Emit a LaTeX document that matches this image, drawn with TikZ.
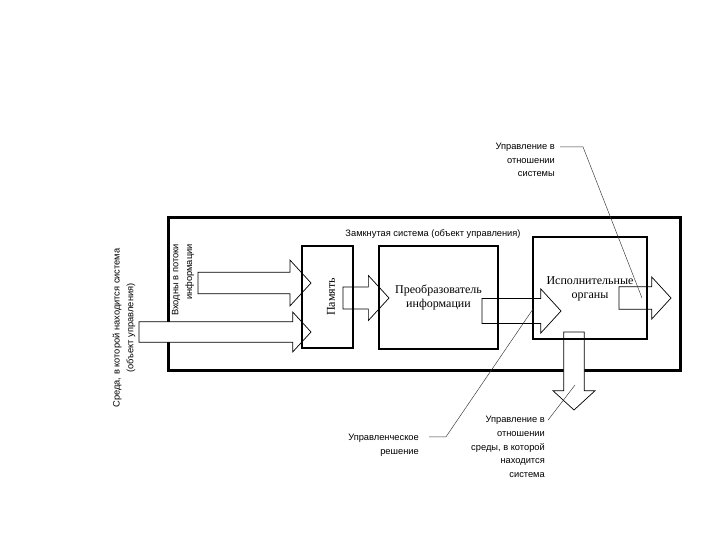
\documentclass[tikz,border=0pt]{standalone}
\usepackage{fontspec}
\setmainfont{Liberation Sans}
\newfontfamily\boxfont{Liberation Serif}
\usepackage{tikz}
\usetikzlibrary{shapes.arrows}

\tikzset{
  unitbox/.style={draw=black, line width=1.1pt, inner sep=0pt, outer sep=0pt, anchor=north west},
  blockarrow/.style={single arrow, draw=black, fill=white, line width=0.7pt, inner sep=0pt, outer sep=0pt,
    single arrow tip angle=95, single arrow head indent=0pt, anchor=tail},
  boxlabel/.style={font=\boxfont\fontsize{12}{14}\selectfont, align=center, inner sep=0pt},
  notelabel/.style={font=\fontsize{9.3}{13.7}\selectfont, align=right, inner sep=0pt},
  leader/.style={line width=0.45pt, black!80},
}

\begin{document}
\begin{tikzpicture}[x=1pt, y=-1pt]
\useasboundingbox (0,0) rectangle (720,540);

% Closed system frame
\node[draw=black, line width=2.8pt, minimum width=512, minimum height=153, inner sep=0pt, anchor=north west] (frame) at (167,216) {};
\node[font=\fontsize{9.3}{11}\selectfont] (title) at (433,234) {Замкнутая система (объект управления)};

% Block arrows
\node[blockarrow, minimum height=113, minimum width=46, inner ysep=6] (inA) at (198,283) {};
\node[blockarrow, minimum height=172, minimum width=40, inner ysep=7] (inB) at (139,332) {};
\node[blockarrow, minimum height=46, minimum width=45, inner ysep=6.5] (memconv) at (343,298) {};
\node[blockarrow, minimum height=79, minimum width=44, inner ysep=9] (convexec) at (482,311) {};
\node[blockarrow, minimum height=52, minimum width=42, inner ysep=8] (toSys) at (619,298) {};
\node[blockarrow, rotate=-90, minimum height=78, minimum width=42, inner ysep=6.5] (toEnv) at (574,332) {};

% Memory, converter, executive organs
\node[unitbox, minimum width=51, minimum height=102] (mem) at (302,246) {};
\node[unitbox, minimum width=119, minimum height=103] (conv) at (379,246) {};
\node[unitbox, minimum width=114, minimum height=102] (exec) at (533,237) {};

\node[boxlabel, rotate=90] (memtext) at (331,297) {Память};
\node[boxlabel] (convtext) at (conv.center) {Преобразователь\\информации};
\node[boxlabel] (exectext) at (590,289) {Исполнительные\\органы};

% Left side labels
\node[notelabel, align=center, rotate=90] (env) at (124,328) {Среда, в которой находится система\\(объект управления)};
\node[notelabel, rotate=90] (inflow) at (183,280) {Входны в потоки\\информации};

% Notes with leaders
\node[notelabel, anchor=east] (ctrlsys) at (555,160) {Управление в\\отношении\\системы};
\node[notelabel, anchor=east] (decision) at (419,445) {Управленческое\\решение};
\node[notelabel, anchor=east] (ctrlenv) at (545,447) {Управление в\\отношении\\среды, в которой\\находится\\система};

\coordinate (sysend) at (642,298);
\coordinate (decend) at (533,309);
\coordinate (envend) at (575,385);
\draw[leader] ([shift={(5,4)}]ctrlsys.north east) -- ++(23,0) -- (sysend);
\draw[leader] ([shift={(10,3)}]decision.north east) -- ++(17,0) -- (decend);
\draw[leader] ([shift={(3,4)}]ctrlenv.north east) -- (envend);

\end{tikzpicture}
\end{document}
